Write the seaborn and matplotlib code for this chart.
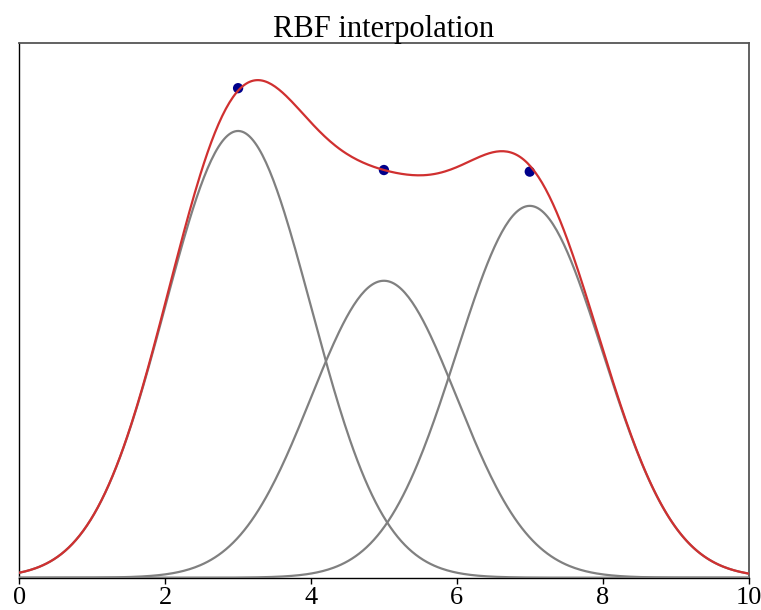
import numpy as np
import pandas as pd
import seaborn as sns
import matplotlib
matplotlib.use("Agg")
import matplotlib.pyplot as plt

# RBF model: Gaussian kernels at the node positions
centers = [3.0, 5.0, 7.0]
weights = [0.835, 0.555, 0.695]
kernel_width = 1.0

# sample nodes that are interpolated
node_x = [3.0, 5.0, 7.0]
node_y = [0.915, 0.762, 0.759]

x_ticks = [0, 2, 4, 6, 8, 10]

sns.set_theme(style="white")
plt.rcParams["font.family"] = ["Liberation Serif", "DejaVu Serif"]
plt.rcParams["text.color"] = "black"
plt.rcParams["xtick.color"] = "black"
plt.rcParams["axes.labelcolor"] = "black"

xs = np.linspace(0, 10, 400)
basis = pd.DataFrame({
    "x": np.tile(xs, len(centers)),
    "y": np.concatenate([w * np.exp(-(xs - c) ** 2 / (2 * kernel_width ** 2))
                         for c, w in zip(centers, weights)]),
    "kernel": np.repeat([f"c{c:g}" for c in centers], len(xs)),
})
total = basis.groupby("x", as_index=False)["y"].sum()
nodes = pd.DataFrame({"x": node_x, "y": node_y})

fig = plt.figure(figsize=(7.61, 6.10), dpi=100)
ax = fig.add_axes([0.0254, 0.053, 0.9582, 0.877])

sns.scatterplot(data=nodes, x="x", y="y", color="#00008b", s=55,
                edgecolor="none", ax=ax, zorder=2)
sns.lineplot(data=basis, x="x", y="y", units="kernel", estimator=None,
             color="#808080", linewidth=1.6, ax=ax, zorder=3)
sns.lineplot(data=total, x="x", y="y", color="#d03030", linewidth=1.6,
             ax=ax, zorder=4)

ax.set_xlim(0, 10)
ax.set_ylim(0, 1.0)
ax.set_xticks(x_ticks)
ax.set_xticklabels([str(t) for t in x_ticks], fontsize=19, color="black")
ax.set_yticks([])
ax.set_xlabel("")
ax.set_ylabel("")
ax.tick_params(axis="x", direction="out", length=4, width=1, color="black",
               labelcolor="black", pad=3, bottom=True)
ax.set_title("RBF interpolation", fontsize=22, pad=4, color="black")

for side in ("left", "bottom"):
    ax.spines[side].set_color("black")
    ax.spines[side].set_linewidth(1.0)
for side in ("top", "right"):
    ax.spines[side].set_color("#555555")
    ax.spines[side].set_linewidth(1.3)

fig.savefig("out.png", dpi=100)
